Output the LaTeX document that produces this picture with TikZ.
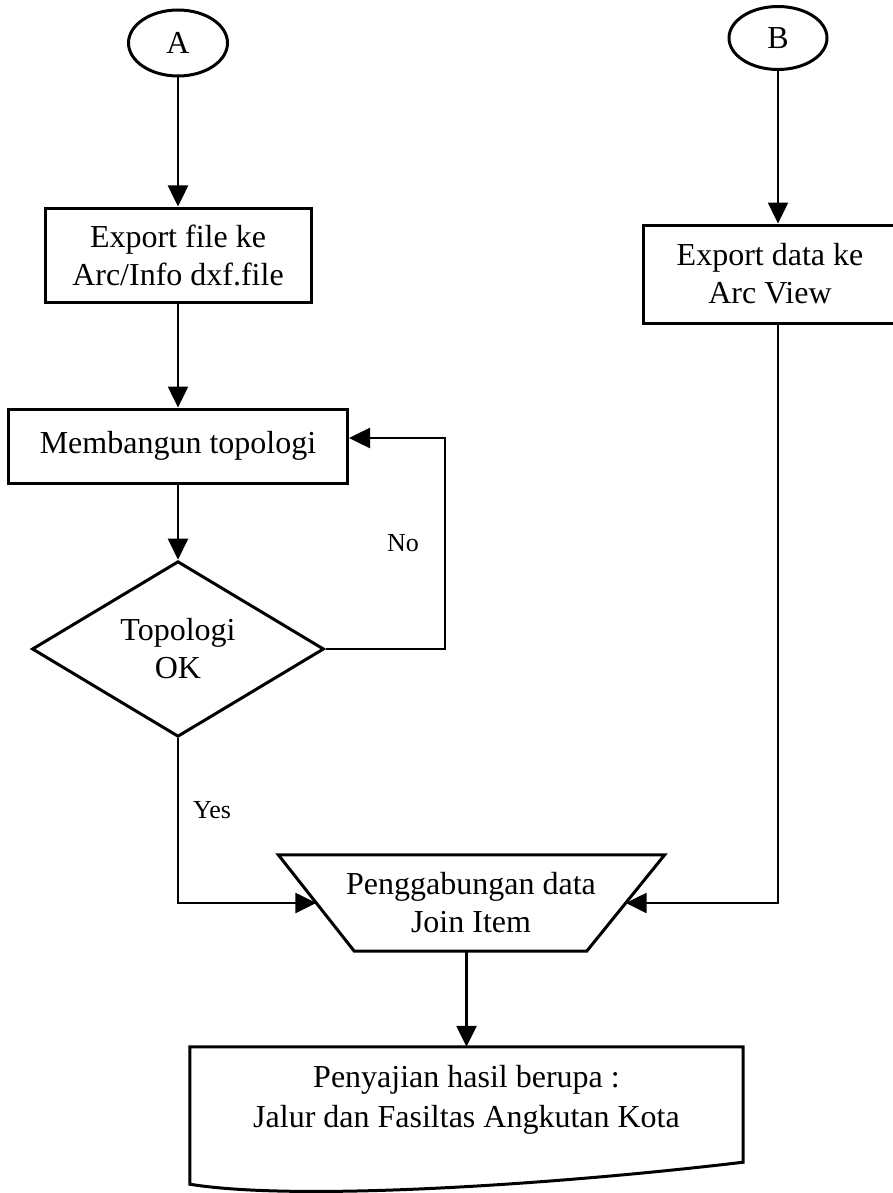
\documentclass[tikz,border=0pt]{standalone}
\usepackage{fontspec}
\setmainfont{Liberation Serif}
\usetikzlibrary{shapes.geometric,arrows.meta}
\begin{document}
\begin{tikzpicture}[x=1pt,y=-1pt,
  every node/.style={font=\fontsize{32}{38}\selectfont, align=center},
  shp/.style={draw, line width=3pt},
  termin/.style={shp, ellipse, inner sep=0pt},
  proc/.style={shp, rectangle, inner sep=0pt},
  decis/.style={shp, diamond, inner sep=0pt, minimum width=292pt, minimum height=168pt},
  lbl/.style={font=\fontsize{26}{30}\selectfont},
  conn/.style={line width=2.5pt, -{Triangle[length=21pt,width=20pt]}}
]
\useasboundingbox (0,0) rectangle (892,1193);

% nodes
\node[termin, minimum width=99pt, minimum height=66pt] (A) at (178,43) {A};
\node[termin, minimum width=98pt, minimum height=63pt] (B) at (778,38) {B};
\node[proc, minimum width=266pt, minimum height=94pt] (exp1) at (178,255) {Export file ke\\Arc/Info dxf.file};
\node[proc, minimum width=254pt, minimum height=98pt] (exp2) at (770,274) {Export data ke\\Arc View};
\node[proc, minimum width=339pt, minimum height=74pt] (mem) at (178,446) {Membangun topologi};
\node[decis] (dec) at (178,649) {Topologi\\OK};
\node[inner sep=0pt, minimum width=309pt, minimum height=96pt] (join) at (471,903) {Penggabungan data\\Join Item};
\node[inner sep=0pt, minimum width=553pt, minimum height=106pt, font=\fontsize{32}{40}\selectfont] (doc) at (466.5,1100) {Penyajian hasil berupa :\\Jalur dan Fasiltas Angkutan Kota};

% manual outlines
\draw[shp] ([xshift=-38pt]join.north west) -- ([xshift=39pt]join.north east)
  -- ([xshift=-39pt]join.south east) -- ([xshift=38pt]join.south west) -- cycle;
\draw[shp] (doc.north west) -- (doc.north east) -- ([yshift=-9pt]doc.south east)
  .. controls (560,1184) and (300,1202) .. ([yshift=-31pt]doc.south west) -- cycle;

% labels
\node[lbl] (no) at (403,543) {No};
\node[lbl] (yes) at (212,810) {Yes};

% connectors
\coordinate (loopx) at (445,649);
\draw[conn] (A) -- (exp1);
\draw[conn] (exp1) -- (mem);
\draw[conn] (mem) -- (dec);
\draw[conn] (dec.east) -- (loopx) |- ([yshift=8pt]mem.east);
\draw[conn] (dec.south) |- (join.west);
\draw[conn] (B) -- (B |- exp2.north);
\draw[conn] (B |- exp2.south) |- (join.east);
\draw[conn] (join.south -| doc.north) -- (doc.north);
\end{tikzpicture}
\end{document}
